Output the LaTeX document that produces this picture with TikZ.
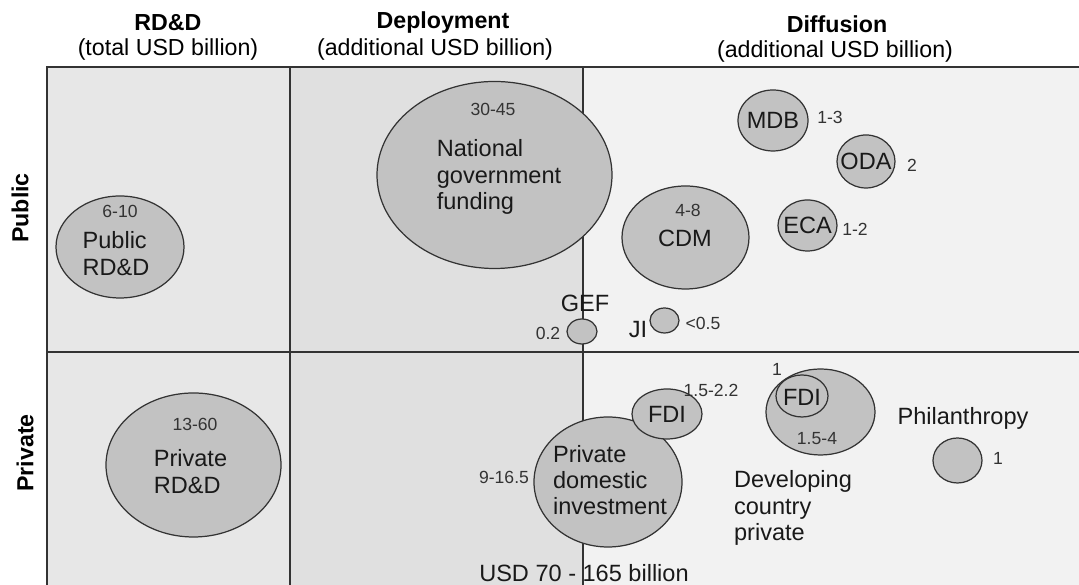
\documentclass[tikz,border=0pt]{standalone}
\usepackage{fontspec}
\setmainfont{Liberation Sans}
\usepackage{tikz}

\definecolor{bubblegray}{HTML}{C2C2C2}
\definecolor{edgegray}{HTML}{333333}
\definecolor{rddgray}{HTML}{E7E7E7}
\definecolor{deploygray}{HTML}{E0E0E0}
\definecolor{diffgray}{HTML}{F2F2F2}

\begin{document}
\begin{tikzpicture}[
        bubble/.style={fill=bubblegray, draw=edgegray, line width=0.7pt},
        frameline/.style={draw=edgegray, line width=0.8pt},
        fundtext/.style={font=\fontsize{13.4}{15}\selectfont, text=black!90, align=left, inner sep=0pt},
        amount/.style={font=\fontsize{10}{12}\selectfont, text=black!80, inner sep=0pt},
        heading/.style={font=\bfseries\fontsize{13.2}{15}\selectfont, inner sep=0pt},
        subheading/.style={font=\fontsize{13.2}{15}\selectfont, inner sep=0pt}]
        \useasboundingbox (0,0) rectangle (21.58,11.7);

        % Draw the three columns and the public/private split
        \fill[rddgray] (0.94,0) rectangle (5.8,10.36);
        \fill[deploygray] (5.8,0) rectangle (11.66,10.36);
        \fill[diffgray] (11.66,0) rectangle (21.58,10.36);
        \draw[frameline] (21.58,10.36) -- (0.94,10.36) -- (0.94,0);
        \draw[frameline] (0.94,4.66) -- (21.58,4.66);
        \draw[frameline] (5.8,0) -- (5.8,10.36);
        \draw[frameline] (11.66,0) -- (11.66,10.36);

        % Headings
        \node[heading] (rddhead) at (3.36,11.24) {RD\&D};
        \node[subheading] (rddunit) at (3.36,10.7) {(total USD billion)};
        \node[heading] (dephead) at (8.86,11.24) {Deployment};
        \node[subheading] (depunit) at (8.7,10.7) {(additional USD billion)};
        \node[heading] (difhead) at (16.74,11.22) {Diffusion};
        \node[subheading] (difunit) at (16.7,10.66) {(additional USD billion)};
        \node[heading, rotate=90] (pubhead) at (0.4,7.54) {Public};
        \node[heading, rotate=90] (privhead) at (0.5,2.64) {Private};

        % Public flows
        \draw[bubble] (2.4,6.76) ellipse (1.28cm and 1.02cm);
        \node[amount] (pubrddval) at (2.4,7.48) {6-10};
        \node[fundtext] (pubrdd) at (2.32,6.63) {Public\\RD\&D};

        \draw[bubble] (9.89,8.2) ellipse (2.35cm and 1.87cm);
        \node[amount] (natval) at (9.86,9.52) {30-45};
        \node[fundtext] (nat) at (9.98,8.16) {National\\government\\funding};

        \draw[bubble] (15.46,9.29) ellipse (0.7cm and 0.61cm);
        \node[fundtext] (mdb) at (15.46,9.29) {MDB};
        \node[amount] (mdbval) at (16.6,9.36) {1-3};

        \draw[bubble] (17.32,8.47) ellipse (0.58cm and 0.53cm);
        \node[fundtext] (oda) at (17.32,8.47) {ODA};
        \node[amount] (odaval) at (18.24,8.4) {2};

        \draw[bubble] (16.15,7.19) ellipse (0.59cm and 0.51cm);
        \node[fundtext] (eca) at (16.15,7.19) {ECA};
        \node[amount] (ecaval) at (17.1,7.12) {1-2};

        \draw[bubble] (13.71,6.95) ellipse (1.27cm and 1.03cm);
        \node[amount] (cdmval) at (13.76,7.5) {4-8};
        \node[fundtext] (cdm) at (13.7,6.94) {CDM};

        \draw[bubble] (11.64,5.07) ellipse (0.3cm and 0.25cm);
        \node[fundtext] (gef) at (11.7,5.64) {GEF};
        \node[amount] (gefval) at (10.96,5.04) {0.2};

        \draw[bubble] (13.29,5.29) ellipse (0.29cm and 0.25cm);
        \node[fundtext] (ji) at (12.76,5.1) {JI};
        \node[amount] (jival) at (14.06,5.24) {<0.5};

        % Private flows
        \draw[bubble] (3.87,2.4) ellipse (1.75cm and 1.44cm);
        \node[amount] (privrddval) at (3.9,3.22) {13-60};
        \node[fundtext] (privrdd) at (3.81,2.27) {Private\\RD\&D};

        \draw[bubble] (12.16,2.06) ellipse (1.48cm and 1.3cm);
        \node[fundtext] (dom) at (12.2,2.1) {Private\\domestic\\investment};
        \node[amount] (domval) at (10.08,2.16) {9-16.5};

        \draw[bubble] (13.34,3.42) ellipse (0.7cm and 0.5cm);
        \node[fundtext] (fdi) at (13.34,3.42) {FDI};
        \node[amount] (fdival) at (14.22,3.9) {1.5-2.2};

        \draw[bubble] (16.41,3.46) ellipse (1.09cm and 0.86cm);
        \draw[bubble] (16.04,3.78) ellipse (0.52cm and 0.42cm);
        \node[fundtext] (devfdi) at (16.04,3.76) {FDI};
        \node[amount] (devfdival) at (15.54,4.32) {1};
        \node[amount] (devval) at (16.34,2.92) {1.5-4};
        \node[fundtext] (dev) at (15.86,1.54) {Developing\\country\\private};

        \node[fundtext] (phil) at (19.26,3.34) {Philanthropy};
        \draw[bubble] (19.15,2.49) ellipse (0.49cm and 0.45cm);
        \node[amount] (philval) at (19.96,2.54) {1};

        % Total
        \node[fundtext] (total) at (11.68,0.24) {USD 70 - 165 billion};
    \end{tikzpicture}
\end{document}
